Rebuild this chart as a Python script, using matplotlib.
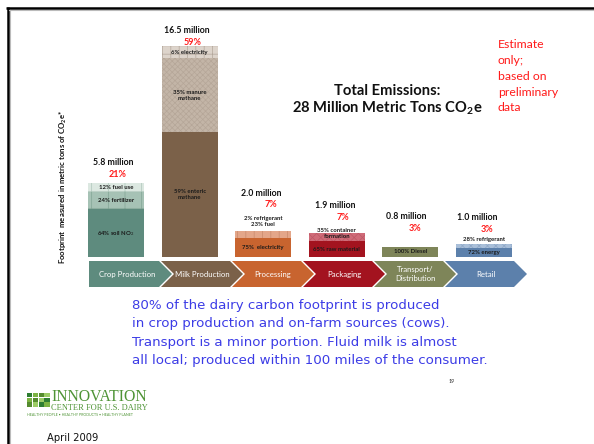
import matplotlib
matplotlib.use("Agg")
import matplotlib.pyplot as plt
from matplotlib.patches import Polygon, Rectangle

# --- values ---
stages = ["Crop Production", "Milk Production", "Processing", "Packaging",
          "Transport/\nDistribution", "Retail"]
totals = [5.8, 16.5, 2.0, 1.9, 0.8, 1.0]      # million metric tons CO2e
share_pct = [21, 59, 7, 7, 3, 3]

# breakdown of each stage, bottom to top (% of the stage)
crop_parts = [64, 24, 12]
crop_names = ["soil NO$_2$", "fertilizer", "fuel use"]
milk_parts = [59, 35, 6]
milk_names = ["enteric\nmethane", "manure\nmethane", "electricity"]
proc_parts = [75, 23, 2]
proc_names = [" electricity", "fuel", "refrigerant"]
pack_parts = [65, 35]
pack_names = ["raw material", "container\nformation"]
trans_parts = [100]
trans_names = ["Diesel"]
retail_parts = [72, 28]
retail_names = ["energy", "refrigerant"]

parts = [crop_parts, milk_parts, proc_parts, pack_parts, trans_parts, retail_parts]
names = [crop_names, milk_names, proc_names, pack_names, trans_names, retail_names]

title_lines = ["Total Emissions:", "28 Million Metric Tons CO$_\\mathbf{2}$e"]
note_lines = ["Estimate", "only;", "based on", "preliminary", "data"]
ylabel = "Footprint  measured in metric tons of CO$_\\mathbf{2}$e*"
blurb = ["80% of the dairy carbon footprint is produced",
         "in crop production and on-farm sources (cows).",
         "Transport is a minor portion. Fluid milk is almost",
         "all local; produced within 100 miles of the consumer."]

# --- styles ---
stage_colors = ["#5e8b7e", "#7b6149", "#c8642f", "#a3131f", "#7e8559", "#5c80ab"]
# (face, hatch, hatch colour) per segment
seg_styles = [
    [("#5e8b7e", None, None), ("#a6c2b5", "+", "#82a595"), ("#dce8e1", "+", "#adc6ba")],
    [("#7b6149", None, None), ("#c3b5a7", "xxxxxx", "#b5a698"), ("#ddd4cb", "++", "#b3a79b")],
    [("#c8642f", None, None), ("#e3a689", "||", "#c98a6c"), ("#e3a689", "||", "#c98a6c")],
    [("#a3131f", None, None), ("#cf6b78", "xxxx", "#bd5866")],
    [("#7e8559", None, None)],
    [("#5c80ab", None, None), ("#a9bfd9", "xxxx", "#8ea7c6")],
]
# labels put above the bar: how many top segments, and pixel offset from bar top
above = {2: (2, 10), 3: (1, -1), 5: (1, 5)}
head_off = [(-3, 20), (-3, 15), (-2, 38), (-2, 27), (-4, 30), (-7, 27)]
pct_off = [(2, 8), (3, 3), (8, 27), (6, 15), (5, 18), (3, 15)]

plt.rcParams['font.family'] = ['Lato', 'DejaVu Sans']
plt.rcParams['mathtext.fontset'] = 'custom'
plt.rcParams['mathtext.rm'] = 'Lato'
plt.rcParams['mathtext.bf'] = 'Lato:bold'
plt.rcParams['hatch.linewidth'] = 0.5

W, H = 594, 444
fig = plt.figure(figsize=(W / 100, H / 100), dpi=100)

# pixel overlay for slide decoration
ov = fig.add_axes([0, 0, 1, 1], zorder=0)
ov.set_xlim(0, W)
ov.set_ylim(H, 0)
ov.axis('off')

# slide border
ov.plot([6, W], [8, 8], color='black', lw=1.8, solid_capstyle='butt')
ov.plot([7.5, 7.5], [7, H], color='black', lw=1.8, solid_capstyle='butt')
ov.plot([9, W], [10, 10], color='#bbbbbb', lw=0.8)
ov.plot([9.5, 9.5], [10, H], color='#bbbbbb', lw=0.8)

# chevron process flow
left0, right0, step, tip = 89, 159, 71, 13
top, bot = 261, 287
mid = (top + bot) / 2
for k, st in enumerate(stages):
    R = right0 + step * k
    L = left0 if k == 0 else right0 + step * (k - 1) + 2
    pts = [(L, top), (R, top), (R + tip, mid), (R, bot), (L, bot)]
    if k > 0:
        pts.append((L + tip, mid))
    ov.add_patch(Polygon(pts, closed=True, fc=stage_colors[k], ec='none'))
    tx = (L + R + tip) / 2 - (3 if k == 0 else 0)
    ov.text(tx, mid, st, color='white', fontsize=5.6, ha='center', va='center',
            linespacing=1.25)

# bars
ax = fig.add_axes([80 / W, (H - 257) / H, 440 / W, 237 / H], zorder=1)
ax.patch.set_alpha(0)
ax.set_xlim(-0.489, 5.489)
ax.set_ylim(0, 237 / 12.8)
ax.axis('off')

seg_fs = 4.3
for i, (tot, pp, nn) in enumerate(zip(totals, parts, names)):
    b = 0.0
    n_above, dy_above = above.get(i, (0, 0))
    for j, (p, nm) in enumerate(zip(pp, nn)):
        val = tot * p / 100
        fc, hatch, hc = seg_styles[i][j]
        ax.bar(i, val, bottom=b, width=0.76, color=fc, hatch=hatch,
               edgecolor=hc if hc else fc, linewidth=0)
        if j < len(pp) - n_above:
            ax.text(i, b + val / 2, f"{p}% {nm}", fontsize=seg_fs, fontweight='bold',
                    ha='center', va='center', color='#1a1a1a', linespacing=1.1)
        b += val
    if n_above:
        lab = "\n".join(f"{p}% {nm}" for p, nm in
                        reversed(list(zip(pp[-n_above:], nn[-n_above:]))))
        ax.annotate(lab, (i, tot), xytext=(0, dy_above), textcoords='offset pixels',
                    fontsize=seg_fs, fontweight='bold', ha='center', va='center',
                    color='#1a1a1a', linespacing=1.1)
    ax.annotate(f"{tot:.1f} million", (i, tot), xytext=head_off[i],
                textcoords='offset pixels', fontsize=6.3, fontweight='bold',
                ha='center', va='center', color='#111111')
    ax.annotate(f"{share_pct[i]}%", (i, tot), xytext=pct_off[i],
                textcoords='offset pixels', fontsize=6.5, fontweight='bold',
                ha='center', va='center', color='#ff1a1a')

# axis title
ov.text(63, 187, ylabel, rotation=90, fontsize=5.6, fontweight='bold',
        ha='center', va='center', color='#111111')

# headline and note
for line, y in zip(title_lines, [91, 108]):
    ov.text(387, y, line, fontsize=10.6, fontweight='bold', ha='center',
            va='center', color='#111111')
for line, y in zip(note_lines, [45, 61, 76, 92, 107]):
    ov.text(498, y, line, fontsize=8.8, ha='left', va='center', color='#ff1a1a')

# blue commentary
for line, y in zip(blurb, [305, 323, 342, 360]):
    ov.text(132, y, line, fontsize=9.6, ha='left', va='center', color='#3c3ce6',
            family='DejaVu Sans')

ov.text(452, 381, "19", fontsize=4, ha='center', va='center', color='#333333')

# logo
greens = ["#2e7d32", "#7cb342", "#558b2f", "#9ccc65"]
for r in range(3):
    for c in range(4):
        ov.add_patch(Rectangle((27 + c * 5.8, 393 + r * 4.7), 5.2, 4.2,
                               fc=greens[(r + c) % 4], ec='none'))
ov.text(51, 401, "INNOVATION", family='Liberation Serif', fontsize=11.3,
        color='#4f9436', ha='left', va='baseline')
ov.text(51, 409.5, "CENTER FOR U.S. DAIRY", family='Liberation Serif', fontsize=6.0,
        color='#4f9436', ha='left', va='baseline')
ov.text(27, 414.5, "HEALTHY PEOPLE \u2022 HEALTHY PRODUCTS \u2022 HEALTHY PLANET",
        fontsize=2.6, color='#4f9436', ha='left', va='center')
ov.text(47, 438, "April 2009", fontsize=7.2, ha='left', va='center',
        color='#111111', family='DejaVu Sans')

fig.savefig("out.png", dpi=100)
